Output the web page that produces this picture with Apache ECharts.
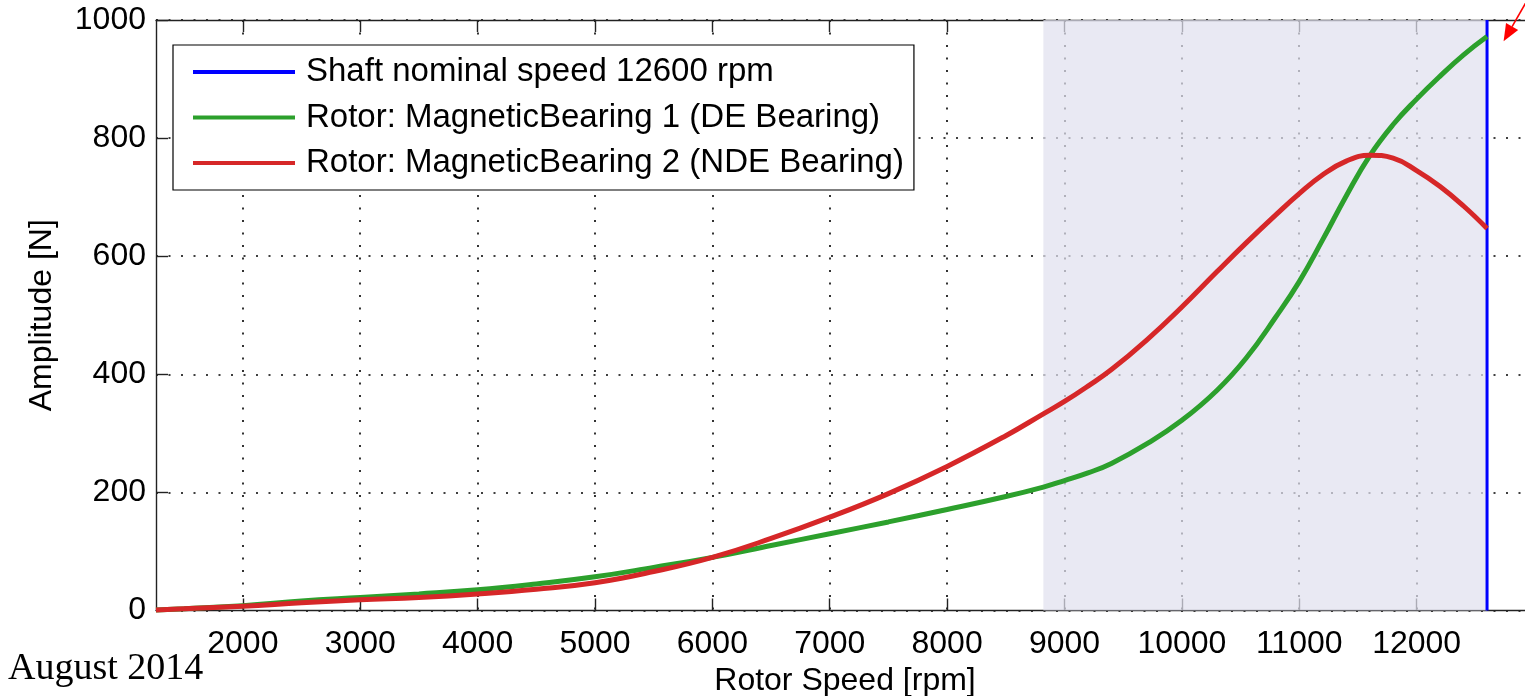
<!DOCTYPE html>
<html>
<head>
<meta charset="utf-8">
<script src="https://cdn.jsdelivr.net/npm/echarts@6/dist/echarts.min.js"></script>
<style>
  html, body { margin: 0; padding: 0; background: #fff; }
  #chart { width: 1525px; height: 696px; }
</style>
</head>
<body>
<div id="chart"></div>
<script>
// ---- data ----
const rpm = [1260, 1500, 2000, 2500, 3000, 3500, 4000, 4500, 5000, 5500, 6000, 6500, 7000, 7500, 8000, 8500, 8820, 9000, 9200, 9400, 9700, 10000, 10300, 10550, 10800, 11000, 11200, 11400, 11600, 11800, 12000, 12200, 12400, 12600];
const deBearing = [1, 3, 8, 16, 22, 28, 35, 45, 57, 73, 90, 110, 130, 150, 171, 193, 209, 220, 233, 249, 282, 322, 373, 428, 497, 557, 628, 702, 770, 823, 866, 905, 941, 972];
const ndeBearing = [1, 3, 7, 13, 18, 22, 28, 36, 47, 66, 90, 122, 158, 198, 244, 296, 333, 354, 380, 408, 458, 514, 574, 623, 670, 706, 738, 761, 771, 766, 745, 718, 685, 647];
const xTickValues = [2000, 3000, 4000, 5000, 6000, 7000, 8000, 9000, 10000, 11000, 12000];
const nominalSpeed = 12600;
const nominalLine = [0, 1000];
const shadedBand = [8820, 12600];
const xRange = [1260, 13000];
const yRange = [0, 1000];
const arrowTail = [12950, 1036];
const arrowTip = [12741, 964];

const names = [
  'Shaft nominal speed 12600 rpm',
  'Rotor: MagneticBearing 1 (DE Bearing)',
  'Rotor: MagneticBearing 2 (NDE Bearing)'
];

const font = 'Liberation Sans, Arial, Helvetica, sans-serif';
const axisColor = '#222';
const gridDots = { color: '#000', width: 1.6, type: [2, 10.5] };

const chart = echarts.init(document.getElementById('chart'), null, { renderer: 'canvas' });

const xBase = {
  type: 'value',
  min: xRange[0],
  max: xRange[1],
  axisLine: { show: true, onZero: false, lineStyle: { color: axisColor, width: 1.4 } },
  axisTick: { show: true, inside: true, length: 12, customValues: xTickValues, lineStyle: { color: axisColor, width: 1.4 } },
};

const option = {
  animation: false,
  backgroundColor: '#fff',
  textStyle: { fontFamily: font },
  grid: { left: 156, width: 1378, top: 20, bottom: 85.5, containLabel: false, outerBoundsMode: 'none' },
  legend: {
    data: [
      { name: names[0], icon: 'rect' },
      { name: names[1], icon: 'rect' },
      { name: names[2], icon: 'rect' }
    ],
    orient: 'vertical',
    left: 173,
    top: 45,
    padding: [7, 10, 7, 20],
    itemWidth: 102,
    itemHeight: 4,
    itemGap: 5.5,
    backgroundColor: '#fff',
    borderColor: '#000',
    borderWidth: 1.2,
    borderRadius: 0,
    selectedMode: false,
    textStyle: { fontFamily: font, fontSize: 33, color: '#000', lineHeight: 40, padding: [0, 0, 0, 6] },
    z: 10
  },
  xAxis: [
    Object.assign({}, xBase, {
      position: 'bottom',
      name: 'Rotor Speed [rpm]',
      nameLocation: 'middle',
      nameGap: 53,
      nameTextStyle: { fontFamily: font, fontSize: 32, color: '#000' },
      axisLabel: { show: true, customValues: xTickValues, formatter: v => String(v), fontFamily: font, fontSize: 32, color: '#000', margin: 18 },
      splitLine: { show: true, lineStyle: gridDots }
    }),
    Object.assign({}, xBase, {
      position: 'top',
      axisLabel: { show: false },
      splitLine: { show: false }
    })
  ],
  yAxis: {
    type: 'value',
    min: yRange[0],
    max: yRange[1],
    interval: 200,
    name: 'Amplitude [N]',
    nameLocation: 'middle',
    nameGap: 98,
    nameRotate: 90,
    nameTextStyle: { fontFamily: font, fontSize: 32, color: '#000' },
    axisLine: { show: true, lineStyle: { color: axisColor, width: 1.4 } },
    axisTick: { show: true, inside: true, length: 12, lineStyle: { color: axisColor, width: 1.4 } },
    axisLabel: { formatter: v => String(v), fontFamily: font, fontSize: 32, color: '#000', margin: 10 },
    splitLine: { show: true, lineStyle: gridDots }
  },
  series: [
    {
      name: 'band',
      type: 'line',
      data: [],
      silent: true,
      markArea: {
        silent: true,
        itemStyle: { color: 'rgba(224,224,239,0.72)' },
        data: [[{ xAxis: shadedBand[0], yAxis: yRange[0] }, { xAxis: shadedBand[1], yAxis: yRange[1] }]]
      }
    },
    {
      name: names[0],
      type: 'line',
      data: nominalLine.map(v => [nominalSpeed, v]),
      symbol: 'none',
      color: '#0000ff',
      lineStyle: { color: '#0000ff', width: 3 },
      z: 3
    },
    {
      name: names[1],
      type: 'line',
      data: rpm.map((r, i) => [r, deBearing[i]]),
      smooth: 0.45,
      symbol: 'none',
      color: '#2ca02c',
      lineStyle: { color: '#2ca02c', width: 5 },
      z: 3
    },
    {
      name: names[2],
      type: 'line',
      data: rpm.map((r, i) => [r, ndeBearing[i]]),
      smooth: 0.45,
      symbol: 'none',
      color: '#d62728',
      lineStyle: { color: '#d62728', width: 5 },
      z: 3
    }
  ]
};

chart.setOption(option);

// annotation arrow and date stamp, placed through the chart's own scales
const tail = chart.convertToPixel({ gridIndex: 0 }, arrowTail);
const tip = chart.convertToPixel({ gridIndex: 0 }, arrowTip);
const dx = tip[0] - tail[0], dy = tip[1] - tail[1];
const len = Math.sqrt(dx * dx + dy * dy);
const ux = dx / len, uy = dy / len;
const headLen = 17, headHalf = 7;
const baseX = tip[0] - ux * headLen, baseY = tip[1] - uy * headLen;

chart.setOption({
  graphic: [
    {
      type: 'line',
      silent: true,
      shape: { x1: tail[0], y1: tail[1], x2: baseX, y2: baseY },
      style: { stroke: '#ff0000', lineWidth: 1.6 },
      z: 20
    },
    {
      type: 'polygon',
      silent: true,
      shape: { points: [[tip[0], tip[1]], [baseX - uy * headHalf, baseY + ux * headHalf], [baseX + uy * headHalf, baseY - ux * headHalf]] },
      style: { fill: '#ff0000' },
      z: 20
    },
    {
      type: 'text',
      silent: true,
      left: 8,
      top: 650,
      style: { text: 'August 2014', font: '38px "Liberation Serif", "Times New Roman", serif', fill: '#000' },
      z: 20
    }
  ]
});
</script>
</body>
</html>
